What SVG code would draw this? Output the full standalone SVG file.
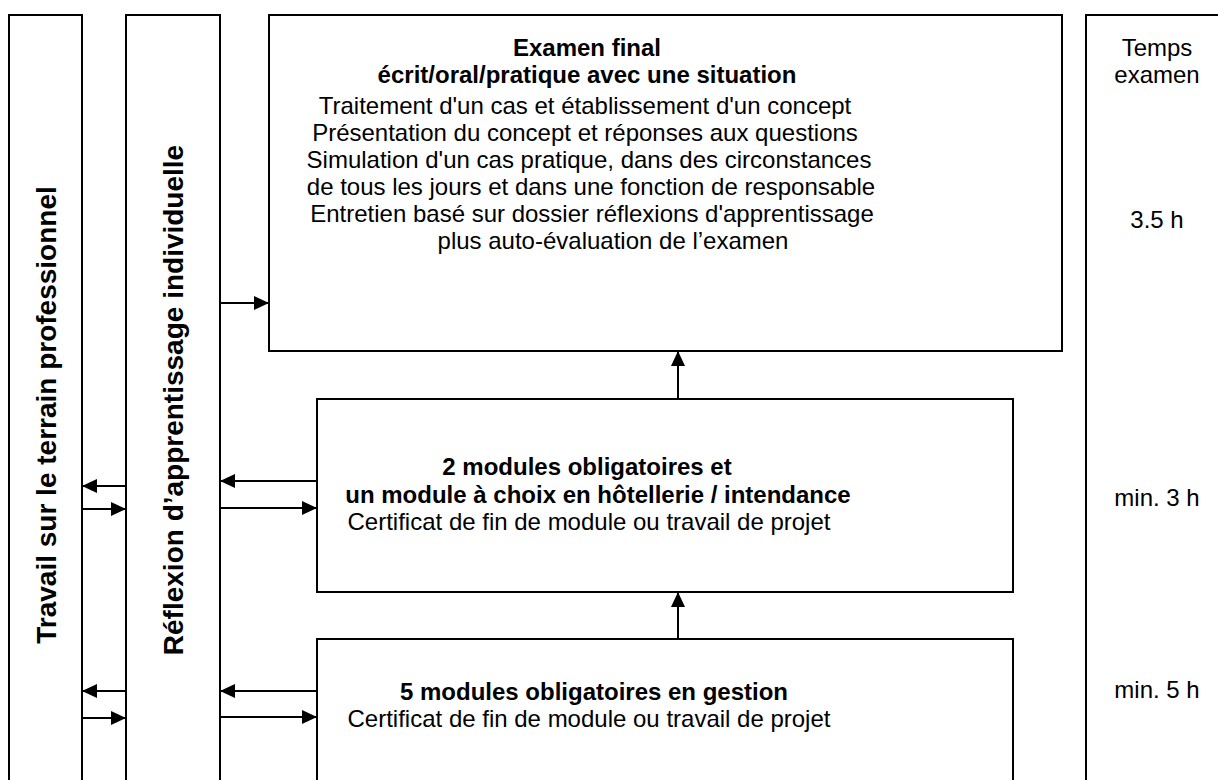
<svg xmlns="http://www.w3.org/2000/svg" width="1218" height="780" viewBox="0 0 1218 780">
<style>
.box{fill:#fff;stroke:#000;stroke-width:2}
.t{font-family:"Liberation Sans",Arial,sans-serif;font-size:24px;fill:#000}
.b{font-weight:bold}
.v{font-family:"Liberation Sans",Arial,sans-serif;font-size:28px;font-weight:bold;fill:#000}
.c{stroke:#000;stroke-width:2;fill:none;marker-end:url(#ah)}
</style>
<defs>
<marker id="ah" markerUnits="userSpaceOnUse" markerWidth="15" markerHeight="14" refX="15" refY="7" orient="auto">
<path d="M0,0 L15,7 L0,14 z" fill="#000"/>
</marker>
</defs>
<rect width="1218" height="780" fill="#fff"/>
<g id="terrain">
<rect class="box" x="9" y="15" width="73" height="790"/>
<text class="v" transform="translate(56,415) rotate(-90)" text-anchor="middle">Travail sur le terrain professionnel</text>
</g>
<g id="reflexion">
<rect class="box" x="126" y="15" width="94" height="790"/>
<text class="v" transform="translate(183,400) rotate(-90)" text-anchor="middle">Réflexion d’apprentissage individuelle</text>
</g>
<g id="examen">
<rect class="box" x="269" y="15" width="793" height="336"/>
<text class="t b" x="587" y="56" text-anchor="middle">Examen final</text>
<text class="t b" x="587" y="83" text-anchor="middle">écrit/oral/pratique avec une situation</text>
<text class="t" x="585" y="114" text-anchor="middle">Traitement d'un cas et établissement d'un concept</text>
<text class="t" x="585" y="141" text-anchor="middle">Présentation du concept et réponses aux questions</text>
<text class="t" x="589" y="168" text-anchor="middle">Simulation d'un cas pratique, dans des circonstances</text>
<text class="t" x="591" y="195" text-anchor="middle">de tous les jours et dans une fonction de responsable</text>
<text class="t" x="592" y="222" text-anchor="middle">Entretien basé sur dossier réflexions d'apprentissage</text>
<text class="t" x="613" y="249" text-anchor="middle">plus auto-évaluation de l’examen</text>
</g>
<g id="temps">
<rect class="box" x="1086" y="15" width="200" height="790"/>
<text class="t" x="1157" y="56" text-anchor="middle">Temps</text>
<text class="t" x="1157" y="83" text-anchor="middle">examen</text>
<text class="t" x="1157" y="228" text-anchor="middle">3.5 h</text>
<text class="t" x="1157" y="506" text-anchor="middle">min. 3 h</text>
<text class="t" x="1157" y="698" text-anchor="middle">min. 5 h</text>
</g>
<g id="modules2">
<rect class="box" x="317" y="399" width="696" height="193"/>
<text class="t b" x="587" y="475" text-anchor="middle">2 modules obligatoires et</text>
<text class="t b" x="598" y="503" text-anchor="middle">un module à choix en hôtellerie / intendance</text>
<text class="t" x="589" y="530" text-anchor="middle">Certificat de fin de module ou travail de projet</text>
</g>
<g id="modules5">
<rect class="box" x="317" y="639" width="696" height="170"/>
<text class="t b" x="594" y="700" text-anchor="middle">5 modules obligatoires en gestion</text>
<text class="t" x="589" y="727" text-anchor="middle">Certificat de fin de module ou travail de projet</text>
</g>
<g id="connectors">
<line class="c" x1="220" y1="303" x2="269" y2="303"/>
<line class="c" x1="678" y1="399" x2="678" y2="351"/>
<line class="c" x1="678" y1="639" x2="678" y2="592"/>
<line class="c" x1="126" y1="486" x2="82" y2="486"/>
<line class="c" x1="82" y1="509" x2="126" y2="509"/>
<line class="c" x1="317" y1="481" x2="220" y2="481"/>
<line class="c" x1="220" y1="508" x2="317" y2="508"/>
<line class="c" x1="126" y1="691" x2="82" y2="691"/>
<line class="c" x1="82" y1="718" x2="126" y2="718"/>
<line class="c" x1="317" y1="691" x2="220" y2="691"/>
<line class="c" x1="220" y1="717" x2="317" y2="717"/>
</g>
</svg>
